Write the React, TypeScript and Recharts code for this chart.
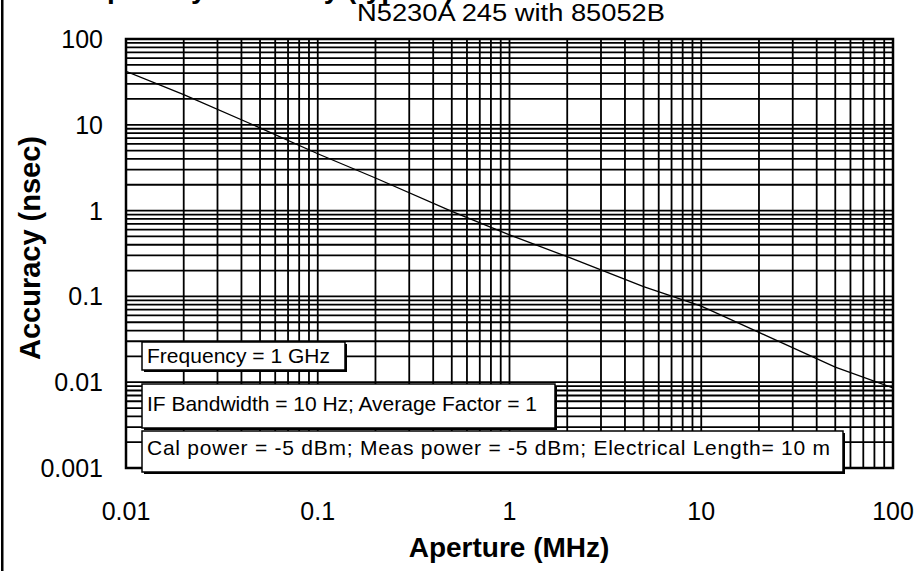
import React from 'react'
import { LineChart, Line, XAxis, YAxis, ReferenceLine, ReferenceArea } from 'recharts'

// values (log-log)
const apertureMHz = [0.01, 0.02, 0.05, 0.1, 0.2, 0.5, 1, 2, 5, 10, 20, 50, 100]
const accuracyNs = [42, 22.5, 9.2, 4.6, 2.4, 0.98, 0.52, 0.29, 0.13, 0.077, 0.038, 0.015, 0.0086]

const xTicks = [0.01, 0.1, 1, 10, 100]
const yTicks = [0.001, 0.01, 0.1, 1, 10, 100]
const gridSteps = [1, 2, 3, 4, 5, 6, 7, 8, 9]

const subtitle = 'N5230A 245 with 85052B'
const noteLines = [
  'Frequency = 1 GHz',
  'IF Bandwidth = 10 Hz; Average Factor = 1',
  'Cal power = -5 dBm; Meas power = -5 dBm; Electrical Length= 10 m',
]

const FONT = '"Liberation Sans", Arial, sans-serif'
const W = 917
const H = 571

const data = apertureMHz.map((x, i) => ({ x, y: accuracyNs[i] }))

// minor + major log grid values
const logGrid = (decades: number[]) =>
  decades
    .slice(0, -1)
    .flatMap((d) => gridSteps.map((s) => +(d * s).toPrecision(3)))
    .concat(decades[decades.length - 1])
const vGrid = logGrid(xTicks)
const hGrid = logGrid(yTicks)

function XTick({ x, y, payload }: any) {
  return (
    <text x={x} y={y + 44} textAnchor="middle" fontSize={25} fontFamily={FONT} fill="#000">
      {String(payload.value)}
    </text>
  )
}

function YTick({ x, y, payload }: any) {
  return (
    <text x={x - 15} y={y + 9} textAnchor="end" fontSize={25} fontFamily={FONT} fill="#000">
      {String(payload.value)}
    </text>
  )
}

// note boxes: [x, y, w, h, textBaseline, textLength]
const boxes = [
  [142, 342, 203, 28, 363, 183],
  [142, 384, 413, 44, 411, 390],
  [142, 431, 701, 41, 455, 683],
]

export default function App() {
  return (
    <div style={{ position: 'relative', width: W, height: H, background: '#fff', overflow: 'hidden' }}>
      <style>{'body{margin:0}'}</style>
      <LineChart width={W} height={H} data={data} margin={{ top: 39, right: 24, bottom: 33, left: 66 }}>
        <XAxis
          dataKey="x"
          type="number"
          scale="log"
          domain={[0.01, 100]}
          ticks={xTicks}
          allowDataOverflow
          axisLine={false}
          tickLine={false}
          height={70}
          tick={<XTick />}
        />
        <YAxis
          type="number"
          scale="log"
          domain={[0.001, 100]}
          ticks={yTicks}
          allowDataOverflow
          axisLine={false}
          tickLine={false}
          width={60}
          tick={<YTick />}
        />
        {hGrid.map((v) => (
          <ReferenceLine key={'h' + v} y={v} stroke="#000" strokeWidth={1.8} ifOverflow="visible" />
        ))}
        {vGrid.map((v) => (
          <ReferenceLine key={'v' + v} x={v} stroke="#000" strokeWidth={1.8} ifOverflow="visible" />
        ))}
        <ReferenceArea
          x1={0.01}
          x2={100}
          y1={0.001}
          y2={100}
          fill="none"
          stroke="#000"
          strokeWidth={2.5}
          ifOverflow="visible"
        />
        <Line
          dataKey="y"
          type="linear"
          stroke="#000"
          strokeWidth={1.3}
          dot={false}
          isAnimationActive={false}
        />
      </LineChart>

      <svg width={W} height={H} style={{ position: 'absolute', left: 0, top: 0, pointerEvents: 'none' }}>
        <text x={40} y={-2} fontSize={28} fontWeight="bold" fontFamily={FONT} fill="#000">
          Group Delay Accuracy (typical)
        </text>
        <text
          x={357}
          y={21}
          fontSize={23}
          fontFamily={FONT}
          fill="#000"
          textLength={308}
          lengthAdjust="spacingAndGlyphs"
        >
          {subtitle}
        </text>
        <text
          x={40}
          y={248}
          transform="rotate(-90 40 248)"
          textAnchor="middle"
          fontSize={29}
          fontWeight="bold"
          fontFamily={FONT}
          fill="#000"
        >
          Accuracy (nsec)
        </text>
        <text x={509} y={557} textAnchor="middle" fontSize={28} fontWeight="bold" fontFamily={FONT} fill="#000">
          Aperture (MHz)
        </text>
        {boxes.map(([bx, by, bw, bh, tb, tl], i) => (
          <g key={i}>
            <rect x={bx + 2} y={by + 2} width={bw} height={bh} fill="#000" />
            <rect x={bx} y={by} width={bw} height={bh} fill="#fff" stroke="#000" strokeWidth={1.5} />
            <text
              x={bx + 5}
              y={tb}
              fontSize={21}
              fontFamily={FONT}
              fill="#000"
              textLength={tl}
              lengthAdjust="spacing"
            >
              {noteLines[i]}
            </text>
          </g>
        ))}
        <rect x={1} y={-10} width={2.5} height={H + 20} fill="#000" />
      </svg>
    </div>
  )
}
